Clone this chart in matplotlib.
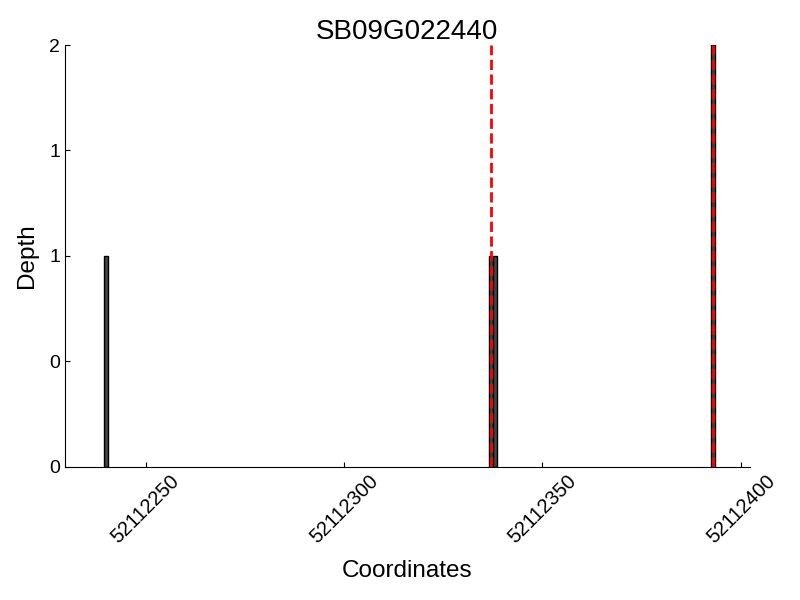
import matplotlib
matplotlib.use("Agg")
import matplotlib.pyplot as plt
from matplotlib.ticker import FormatStrFormatter

plt.rcParams['font.family'] = ['Liberation Sans', 'DejaVu Sans']

# read depth per position
positions = [52112240, 52112337, 52112338, 52112393]
depth = [1, 1, 1, 2]
# gene boundaries (red dashed)
marks = [52112337, 52112393]
gene = "SB09G022440"
xticks = [52112250, 52112300, 52112350, 52112400]

fig = plt.figure(figsize=(8, 6), dpi=100)
ax = fig.add_axes([0.081, 0.2217, 0.8565, 0.7033])

ax.bar(positions, depth, width=1, color="#454545", edgecolor="black", linewidth=1)
for m in marks:
    ax.axvline(m, color="red", linestyle="--", linewidth=2)

ax.set_xlim(52112229.6, 52112402.3)
ax.set_ylim(0, 2)
ax.set_yticks([0, 0.5, 1, 1.5, 2])
ax.yaxis.set_major_formatter(FormatStrFormatter('%d'))
ax.set_xticks(xticks)
ax.set_xticklabels([str(t) for t in xticks], rotation=45, ha="center", fontsize=14.5)

ax.spines['top'].set_visible(False)
ax.spines['right'].set_visible(False)
ax.tick_params(direction="in")
ax.tick_params(axis="y", labelsize=14)

ax.set_title(gene, fontsize=20, pad=2)
ax.set_xlabel("Coordinates", fontsize=17.5, labelpad=9)
ax.set_ylabel("Depth", fontsize=17.5, labelpad=8)

fig.savefig("out.png", dpi=100)
